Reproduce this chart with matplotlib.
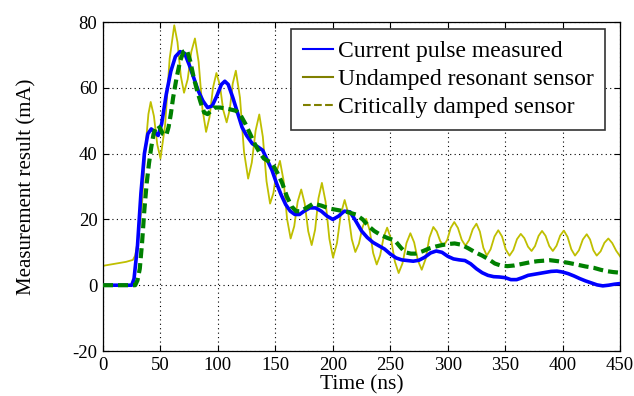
import numpy as np
import matplotlib
matplotlib.use("Agg")
import matplotlib.pyplot as plt
from matplotlib.lines import Line2D

plt.rcParams['font.family'] = ['Liberation Serif', 'DejaVu Serif']
plt.rcParams['axes.unicode_minus'] = False

# Current pulse measured (blue)
t_meas = [0, 25, 27, 30, 33, 36, 39, 42, 45, 48, 51, 55, 59, 63, 67, 71, 75, 79, 83, 87,
          91, 95, 99, 103, 106, 109, 113, 117, 121, 125, 130, 135, 139, 143, 147, 151, 155,
          159, 163, 167, 171, 175, 180, 185, 190, 195, 200, 205, 210, 215, 220, 225, 230,
          235, 240, 245, 250, 255, 260, 265, 270, 275, 280, 285, 290, 295, 300, 305, 310,
          315, 320, 325, 330, 335, 340, 345, 350, 355, 360, 365, 370, 375, 380, 390, 395,
          400, 405, 410, 415, 420, 425, 430, 435, 440, 445, 450]
v_meas = [0, 0, 2, 12, 28, 40, 46, 47.5, 46.5, 45.5, 49, 58, 65, 69.5, 71, 70.5, 67, 63, 59, 56,
          54, 54.5, 57.5, 61, 62, 61, 57, 52.5, 48, 45.5, 43, 42, 41, 38, 35, 31, 27.5,
          24.5, 22.5, 21.5, 21.5, 22.5, 23.5, 23.5, 22.5, 21, 20, 21, 22.5, 22.3, 19.5, 16.5, 14.5,
          13, 12, 11, 9.5, 8.3, 7.7, 7.5, 7.3, 7.6, 8.5, 9.8, 10.4, 10, 8.8, 8, 7.7,
          7.5, 6.5, 5, 3.8, 3, 2.6, 2.5, 2.3, 1.7, 1.7, 2.3, 3, 3.3, 3.6, 4.2, 4.3,
          4.0, 3.5, 2.8, 2, 1.3, 0.7, 0.1, -0.2, 0, 0.3, 0.5]

# Undamped resonant sensor (yellow)
t_res = [0, 10, 20, 26, 28, 31, 34, 37, 39.5, 41.5, 44.3, 47.2, 50, 54, 58, 62, 64.8, 67.7,
         70.5, 73.7, 76.8, 80, 83.2, 86.5, 89.7, 92.7, 95.7, 98.7, 101.7, 104.6, 107.6,
         110.3, 112.9, 115.6, 119.2, 122.7, 126.3, 129.5, 132.8, 136, 139.1, 142.3, 145.4,
         148.3, 151.1, 154, 157.1, 160.2, 163.3, 166.4, 169.4, 172.5, 175.5, 178.6, 181.6,
         184.6, 187.5, 190.5, 193.7, 197, 200.2, 203.6, 206.9, 210.3, 213.4, 216.5, 219.6,
         222.7, 225.9, 229, 232.1, 235.1, 238.2, 241.2, 244.3, 247.3, 250.6, 254, 257.3,
         260.7, 264.1, 267.5, 270.8, 274.1, 277.4, 280.8, 284.1, 287.5, 290.5, 293.5, 296.5,
         299.6, 302.6, 305.7, 308.9, 312.2, 315.4, 318.6, 321.8, 325, 328, 331, 334,
         337.3, 340.7, 344, 347.3, 350.5, 353.8, 357.1, 360.3, 363.6, 366.7, 369.9, 373,
         376, 379.1, 382.1, 385.2, 388.4, 391.5, 394.7, 397.9, 401.1, 404.3, 407.6, 410.8,
         414.2, 417.6, 421, 423.9, 426.8, 429.7, 433.1, 436.4, 439.8, 443.2, 446.6, 450]
v_res = [5.9, 6.5, 7.1, 7.7, 9, 15, 25, 42, 52, 55.7, 51.4, 42.8, 38.5, 48.6, 68.9, 79, 73.9, 63.6,
         58.5, 62.6, 70.9, 75, 67.9, 53.7, 46.6, 51.1, 60, 64.5, 60.8, 53.3, 49.5,
         53.4, 61.3, 65.2, 57, 40.6, 32.4, 37.3, 47, 51.9, 45.1, 31.6, 24.8,
         28, 34.6, 37.8, 31.9, 20.1, 14.2, 17.9, 25.4, 29.1, 24.9, 16.4, 12.2,
         16.9, 26.4, 31.1, 25.4, 14.1, 8.4, 12.8, 21.5, 25.9, 21.9, 14, 10.1,
         12.6, 17.7, 20.2, 16.7, 9.8, 6.3, 9.1, 14.7, 17.5, 14.1, 7.2, 3.7,
         6.7, 12.8, 15.8, 13, 7.5, 4.7, 8, 14.5, 17.7, 16.3, 13.4, 12,
         13.8, 17.4, 19.2, 17.4, 13.8, 12, 13.7, 17, 18.7, 16.3, 11.4, 9,
         10.9, 14.8, 16.7, 14.8, 10.9, 9, 10.7, 14, 15.6, 14.3, 11.7, 10.4,
         11.9, 15, 16.5, 15, 11.9, 10.4, 12, 15.1, 16.6, 14.7, 10.9, 9,
         10.6, 13.9, 15.5, 13.9, 10.6, 9, 10.3, 12.9, 14.2, 12.8, 10.5, 8.8]

# Critically damped sensor (green dashed)
t_damp = [0, 28, 30, 32, 34, 36, 38, 40, 42, 44, 46, 48, 50, 52, 55, 57, 59, 61, 64, 67, 70,
          73, 76, 79, 82, 85, 88, 91, 94, 97, 102, 110, 116, 120, 124, 128, 132, 136, 140,
          145, 148, 152, 156, 160, 164, 168, 172, 177, 183, 190, 197, 205, 212, 220, 226,
          231, 236, 242, 248, 254, 259, 263, 268, 272, 278, 284, 290, 295, 300, 306, 312,
          318, 324, 330, 336, 341, 346, 352, 358, 365, 372, 378, 389, 396, 405, 412, 420,
          427, 433, 438, 444, 450]
v_damp = [0, 0, 1.5, 5, 13, 23, 31, 37, 42, 46, 48, 48.5, 47.5, 46, 45.5, 48, 52, 57, 63, 68, 71,
          71.5, 68, 63, 59, 55.5, 52.5, 52, 53, 54, 54, 53.5, 53, 51.5, 49, 46, 43, 40.5, 38.5,
          37.5, 36.5, 34, 31, 27, 24, 22.5, 22.5, 23.5, 24.8, 24.2, 23.3, 22.8, 22.3, 21.5, 20,
          18, 16.5, 15.2, 14.3, 13.6, 11.5, 10, 9.6, 9.6, 10.3, 11.2, 11.8, 12.2, 12.5, 12.7, 12.3,
          11.2, 10, 9, 7.8, 6.6, 6, 5.8, 6, 6.5, 7, 7.3, 7.6, 7.3, 6.8, 6.3, 5.7,
          5.3, 4.7, 4.3, 4.0, 3.8]

labels = ['Current pulse measured', 'Undamped resonant sensor', 'Critically damped sensor']

fig = plt.figure(figsize=(6.34, 3.96), dpi=100)
ax = fig.add_axes([0.1625, 0.1136, 0.8155, 0.8308])

ax.plot(t_res, v_res, color='#bfbf00', lw=1.3, zorder=2)
ax.plot(t_meas, v_meas, color='#0000ff', lw=2.6, zorder=3)
ax.plot(t_damp, v_damp, color='#008000', lw=3.0, dashes=(2.4, 1.2), zorder=4)

ax.set_xlim(0, 450)
ax.set_ylim(-20, 80)
ax.set_xticks(np.arange(0, 451, 50))
ax.set_yticks(np.arange(-20, 81, 20))
ax.grid(True, color='black', linestyle=(0, (1, 3)), linewidth=0.8)
ax.tick_params(direction='in', top=True, right=True, length=4, labelsize=13.5, pad=4)
for s in ax.spines.values():
    s.set_linewidth(0.9)

ax.set_xlabel('Time (ns)', fontsize=15.5, labelpad=1)
ax.set_ylabel('Measurement result (mA)', fontsize=15, labelpad=26)

handles = [Line2D([], [], color='#0000ff', lw=1.5),
           Line2D([], [], color='#808000', lw=1.5),
           Line2D([], [], color='#808000', lw=1.5, ls='--')]
leg = ax.legend(handles, labels, loc='upper left', bbox_to_anchor=(0.363, 0.98),
                fontsize=17, frameon=True, fancybox=False, framealpha=1,
                handlelength=1.3, handletextpad=0.2, labelspacing=0.28,
                borderpad=0.5, borderaxespad=0.0)
leg.get_frame().set_edgecolor('#333333')
leg.get_frame().set_linewidth(1.2)

fig.savefig('out.png', dpi=100)
